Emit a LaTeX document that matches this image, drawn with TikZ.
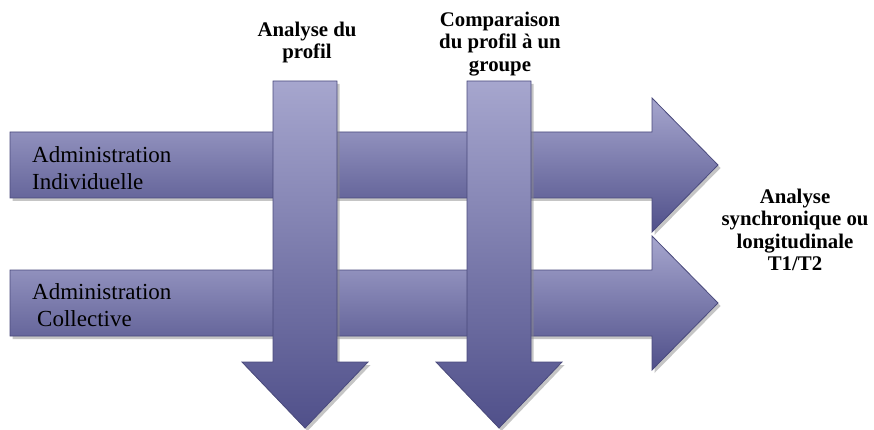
\documentclass[tikz,border=0pt]{standalone}
\usepackage{fontspec}
\setmainfont{Liberation Serif}
\usepackage{tikz}
\usetikzlibrary{shadows}
\definecolor{arrowtop}{HTML}{A6A6CE}
\definecolor{arrowbot}{HTML}{50508A}
\definecolor{arrowline}{HTML}{4A4A7C}

\begin{document}
\begin{tikzpicture}[x=1pt,y=1pt]
\tikzstyle{every node}+=[inner sep=0pt]
\tikzstyle{blockarrow}=[draw=arrowline, line width=0.8pt, line join=miter, top color=arrowtop, bottom color=arrowbot,
  drop shadow={shadow xshift=2.5pt, shadow yshift=-3pt, fill=black!45, opacity=0.5}]
\tikzstyle{admin}=[font=\fontsize{23}{27}\selectfont, align=left, anchor=north west]
\tikzstyle{step label}=[font=\bfseries\fontsize{20.8}{22.3}\selectfont, align=center, anchor=north]
\useasboundingbox (0,0) rectangle (874,-430);
\draw [blockarrow] (10,-132) -- (652,-132) -- (652,-98) -- (718,-165) -- (652,-232) -- (652,-198) -- (10,-198) -- cycle;
\draw [blockarrow] (10,-270) -- (652,-270) -- (652,-236) -- (718,-303) -- (652,-370) -- (652,-336) -- (10,-336) -- cycle;
\draw [blockarrow] (273,-81) -- (337,-81) -- (337,-362) -- (368,-362) -- (305,-428) -- (242,-362) -- (273,-362) -- cycle;
\draw [blockarrow] (467,-81) -- (531,-81) -- (531,-362) -- (562,-362) -- (499,-428) -- (436,-362) -- (467,-362) -- cycle;
\node [admin] (indiv) at (32,-146.3) {Administration\\Individuelle};
\node [admin] (collect) at (32,-283.3) {Administration\\\hspace*{5pt}Collective};
\node [step label] (profil) at (307,-22) {Analyse du\\profil};
\node [step label] (groupe) at (500,-12) {Comparaison\\du profil à un\\groupe};
\node [step label] (synchro) at (795,-189) {Analyse\\synchronique ou\\longitudinale\\T1/T2};
\end{tikzpicture}
\end{document}
